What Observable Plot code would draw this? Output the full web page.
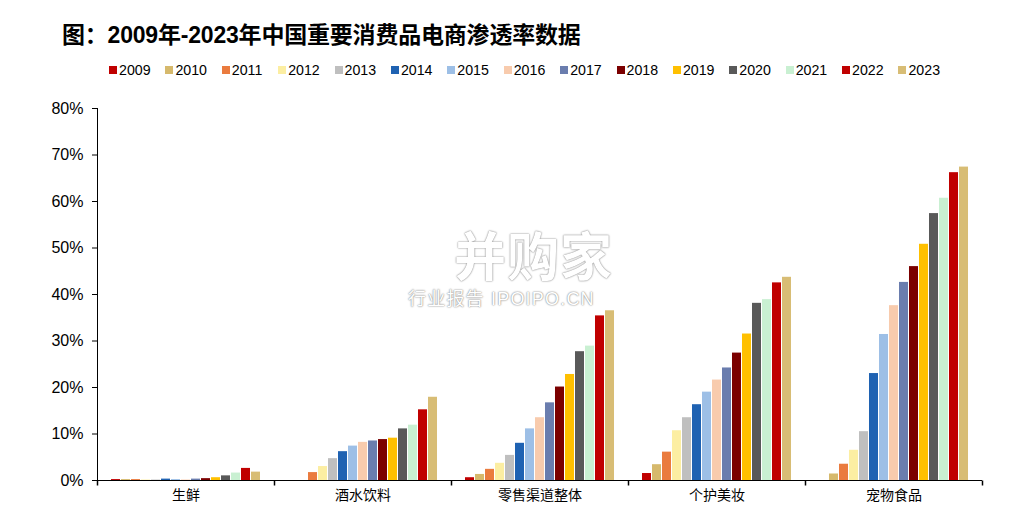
<!DOCTYPE html>
<html>
<head>
<meta charset="utf-8">
<script src="https://cdn.jsdelivr.net/npm/d3@7"></script>
<script src="https://cdn.jsdelivr.net/npm/@observablehq/plot@0.6"></script>
<style>
  html, body { margin: 0; padding: 0; background: #fff; width: 1010px; height: 529px; overflow: hidden; }
  body { position: relative; font-family: "Liberation Sans", "Noto Sans CJK SC", sans-serif; }
  #title { position: absolute; left: 62px; top: 16px; font-size: 23px; font-weight: bold; color: #000; white-space: nowrap; letter-spacing: -0.2px; }
  #legend { position: absolute; left: 109px; top: 62px; display: flex; font-size: 14.2px; color: #000; }
  #legend .item { width: 56.4px; display: flex; align-items: center; }
  #legend .sw { width: 8px; height: 8px; margin-right: 2px; }
  #chart { position: absolute; left: 0; top: 95px; }
  #wm { position: absolute; left: 400px; top: 222px; color: #fff; text-shadow: 0 0 2px #888, 0 0 1px #999; pointer-events: none; }
  #wm .big { position: absolute; left: 54px; top: -6px; font-size: 52px; font-weight: bold; white-space: nowrap; letter-spacing: 1px; }
  #wm .small { position: absolute; left: 8px; top: 62px; font-size: 18px; white-space: nowrap; letter-spacing: 1.2px; }
</style>
</head>
<body>
<div id="title">图：2009年-2023年中国重要消费品电商渗透率数据</div>
<div id="legend"></div>
<div id="chart"></div>
<div id="wm"><div class="big">并购家</div><div class="small">行业报告 IPOIPO.CN</div></div>
<script>
const categories = ["生鲜", "酒水饮料", "零售渠道整体", "个护美妆", "宠物食品"];
const years = ["2009","2010","2011","2012","2013","2014","2015","2016","2017","2018","2019","2020","2021","2022","2023"];
const colors = ["#C00000","#D6B96C","#EA7B3E","#FCEEA2","#BFBFBF","#1F62B2","#9DBFE6","#F8CBAD","#6A7DAE","#7B0000","#FFC000","#595959","#C9F0D2","#C00000","#D8BD75"];

// penetration rates (%) by year, 2009..2023
const freshValues    = [0.2, 0.2, 0.2, 0.1, 0.1, 0.3, 0.2, 0.1, 0.3, 0.4, 0.6, 1.0, 1.6, 2.6, 1.8];
const beverageValues = [null, null, 1.7, 3.0, 4.7, 6.2, 7.4, 8.2, 8.5, 8.8, 9.1, 11.1, 11.9, 15.2, 17.9];
const retailValues   = [0.6, 1.3, 2.4, 3.7, 5.4, 8.0, 11.1, 13.5, 16.7, 20.1, 22.8, 27.7, 28.9, 35.4, 36.5];
const beautyValues   = [1.5, 3.4, 6.1, 10.7, 13.5, 16.3, 19.0, 21.6, 24.2, 27.4, 31.5, 38.1, 38.9, 42.5, 43.7];
const petValues      = [null, 1.4, 3.5, 6.5, 10.5, 23.0, 31.4, 37.6, 42.6, 46.0, 50.8, 57.4, 60.7, 66.2, 67.4];
const yTicks = [0, 0.1, 0.2, 0.3, 0.4, 0.5, 0.6, 0.7, 0.8];

const seriesByCategory = [freshValues, beverageValues, retailValues, beautyValues, petValues];
const data = categories.flatMap((cat, i) =>
  years.map((year, j) => ({cat, year, value: seriesByCategory[i][j] == null ? null : seriesByCategory[i][j] / 100}))
).filter(d => d.value != null);

// legend
const legend = document.getElementById("legend");
years.forEach((y, i) => {
  const it = document.createElement("div");
  it.className = "item";
  it.innerHTML = `<span class="sw" style="background:${colors[i]}"></span><span>${y}</span>`;
  legend.appendChild(it);
});

const tickSymbol = { draw(context) { context.moveTo(0, 0); context.lineTo(0, 5); } };

const chart = Plot.plot({
  width: 1010,
  height: 434,
  marginLeft: 97,
  marginRight: 28,
  marginTop: 13,
  marginBottom: 49,
  style: { fontFamily: "'Liberation Sans', 'Noto Sans CJK SC', sans-serif", background: "transparent", color: "#000" },
  fx: { domain: categories, padding: 0, label: null },
  x: { domain: years, axis: null, paddingInner: 0.06, paddingOuter: 0.8 },
  y: { domain: [0, 0.8], label: null },
  color: { domain: years, range: colors },
  marks: [
    Plot.barY(data, { fx: "cat", x: "year", y: "value", fill: "year" }),
    Plot.ruleY([0], { stroke: "#000", strokeWidth: 1 }),
    Plot.frame({ anchor: "left", facetAnchor: "left", stroke: "#000", strokeWidth: 1 }),
    Plot.axisY({ ticks: yTicks, tickFormat: d3.format(".0%"), tickSize: 5, tickPadding: 9, label: null, fontSize: 16, stroke: "#000" }),
    Plot.axisFx({ anchor: "bottom", tickSize: 0, tickPadding: 10, label: null, fontSize: 14, fontFamily: "'Noto Sans CJK SC', sans-serif" }),
    Plot.dot([0], { frameAnchor: "bottom-left", symbol: tickSymbol, stroke: "#000", r: 3 }),
    Plot.dot([{ cat: "宠物食品" }], { fx: "cat", frameAnchor: "bottom-right", symbol: tickSymbol, stroke: "#000", r: 3 })
  ]
});
document.getElementById("chart").appendChild(chart);
</script>
</body>
</html>
